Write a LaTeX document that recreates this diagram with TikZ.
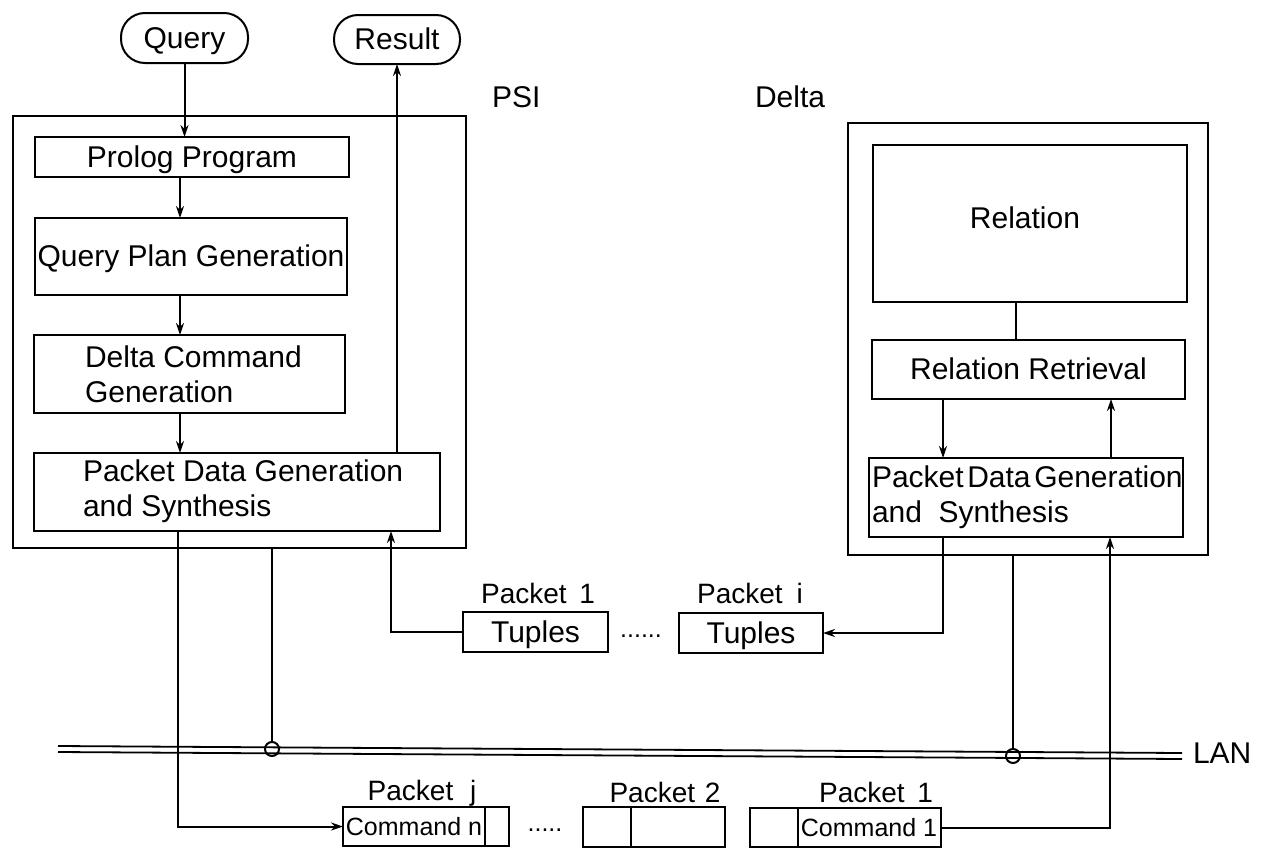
\documentclass[tikz,border=0pt]{standalone}
\usepackage{fontspec}
\setmainfont{Liberation Sans}
\usetikzlibrary{arrows.meta}
\begin{document}
\begin{tikzpicture}[x=1pt,y=-1pt,
  ln/.style={line width=2pt},
  arr/.style={ln,-{Stealth[length=12pt,width=8pt]}},
  box/.style={draw,ln,inner sep=0pt,outer sep=0pt,font=\fontsize{30}{35}\selectfont,text height=21.5pt,text depth=1pt},
  term/.style={box,rounded corners=24pt},
  txt/.style={inner sep=0pt,outer sep=0pt,font=\fontsize{30}{35}\selectfont},
  ptxt/.style={txt,font=\fontsize{28}{33}\selectfont,anchor=base},
  ctxt/.style={txt,font=\fontsize{25}{30}\selectfont,text height=18pt,text depth=1pt},
  lanline/.style={line width=1.8pt}
]
\useasboundingbox (0,0) rectangle (1266,849);
\fill[white] (0,0) rectangle (1266,849);

% x positions
\coordinate (x180) at (180,0);
\coordinate (x178) at (178,0);
\coordinate (x391) at (391,0);
\coordinate (x943) at (943,0);
\coordinate (x1016) at (1016,0);
\coordinate (x1111) at (1111,0);
\coordinate (x1110) at (1110,0);

% terminals
\node[term,minimum width=127pt,minimum height=50pt] (query) at (184.5,38) {Query};
\node[term,minimum width=126pt,minimum height=49pt] (result) at (397,39.5) {Result};

% labels
\node[txt,anchor=base west] (psilab) at (492,107) {PSI};
\node[txt,anchor=base west] (deltalab) at (755,107) {Delta};

% PSI
\node[box,minimum width=453pt,minimum height=432pt] (psi) at (239.5,332) {};
\node[box,minimum width=314pt,minimum height=40pt] (prolog) at (192,157) {Prolog Program};
\node[box,minimum width=312pt,minimum height=77pt] (qpg) at (191,256.5) {Query Plan Generation};
\node[box,minimum width=311pt,minimum height=78pt] (dcg) at (189.5,374) {};
\node[txt,anchor=west,align=left] (dcgt) at (85,374) {Delta Command\\Generation};
\node[box,minimum width=406pt,minimum height=78pt] (pdgsL) at (237,492) {};
\node[txt,anchor=west,align=left] (pdgsLt) at (83,491) {Packet Data Generation\\and Synthesis};

% Delta
\node[box,minimum width=360pt,minimum height=432pt] (delta) at (1028,339) {};
\node[box,minimum width=314pt,minimum height=157pt] (relation) at (1030,223.5) {};
\node[txt] (relt) at (1025,218) {Relation};
\node[box,minimum width=313pt,minimum height=59pt] (rr) at (1028.5,369.5) {Relation Retrieval};
\node[box,minimum width=314pt,minimum height=79pt] (pdgsR) at (1026,497.5) {};
\node[txt,anchor=west,align=left] (pdgsRt) at (872,497) {Packet\hspace{0.12em}Data\hspace{0.12em}Generation\\and\ \ Synthesis};

% tuples packets
\node[box,minimum width=145pt,minimum height=40pt] (tup1) at (535.5,632) {Tuples};
\node[box,minimum width=144pt,minimum height=40pt] (tupi) at (751,633) {Tuples};
\node[ptxt] (ptup1) at (538,603) {Packet\hspace{0.45em}1};
\node[ptxt] (ptupi) at (750,603) {Packet\hspace{0.5em}i};
\node[ctxt,anchor=base] (dots1) at (641,637) {......};

% LAN
\coordinate (lanA1) at (58,746);
\coordinate (lanB1) at (1182,753);
\coordinate (lanA2) at (58,752);
\coordinate (lanB2) at (1182,759);
\draw[lanline] (lanA1) -- (lanB1);
\draw[lanline] (lanA2) -- (lanB2);
\node[txt,anchor=base west] (lan) at (1193,763) {LAN};
\node[draw,ln,circle,minimum size=14pt,inner sep=0pt] (cL) at (272,749) {};
\node[draw,ln,circle,minimum size=14pt,inner sep=0pt] (cR) at (1013,756) {};

% command packets
\node[box,minimum width=166pt,minimum height=39pt] (pkj) at (426,826.5) {};
\coordinate (dj) at (485,826.5);
\draw[ln] (dj |- pkj.north) -- (dj |- pkj.south);
\node[ctxt] (cmdn) at (414,826.5) {Command n};
\node[box,minimum width=142pt,minimum height=40pt] (pk2) at (654,827) {};
\coordinate (d2) at (631,827);
\draw[ln] (d2 |- pk2.north) -- (d2 |- pk2.south);
\node[box,minimum width=191pt,minimum height=39pt] (pk1) at (845.5,827.5) {};
\coordinate (d1) at (798,827.5);
\draw[ln] (d1 |- pk1.north) -- (d1 |- pk1.south);
\node[ctxt] (cmd1) at (869,827.5) {Command 1};
\node[ctxt,anchor=base] (dots2) at (545,831) {.....};
\node[ptxt] (ppkj) at (422,800) {Packet\hspace{0.6em}j};
\node[ptxt] (ppk2) at (665,802) {Packet\hspace{0.35em}2};
\node[ptxt] (ppk1) at (876,802) {Packet\hspace{0.45em}1};

% PSI connectors
\draw[arr] (query.south) -- (query.south |- prolog.north);
\draw[arr] (prolog.south -| x180) -- (qpg.north -| x180);
\draw[arr] (qpg.south -| x180) -- (dcg.north -| x180);
\draw[arr] (dcg.south -| x180) -- (pdgsL.north -| x180);
\draw[arr] (pdgsL.north -| result.south) -- (result.south);
\draw[arr] (pdgsL.south -| x178) |- (pkj.west);
\draw[ln] (psi.south -| cL) -- (cL.north);
\draw[arr] (tup1.west) -| (pdgsL.south -| x391);

% Delta connectors
\draw[ln] (relation.south -| x1016) -- (rr.north -| x1016);
\draw[arr] (rr.south -| x943) -- (pdgsR.north -| x943);
\draw[arr] (pdgsR.north -| x1111) -- (rr.south -| x1111);
\draw[arr] (pdgsR.south -| x943) |- (tupi.east);
\draw[ln] (delta.south -| cR) -- (cR.north);
\draw[arr] (pk1.east) -| (pdgsR.south -| x1110);
\end{tikzpicture}
\end{document}
